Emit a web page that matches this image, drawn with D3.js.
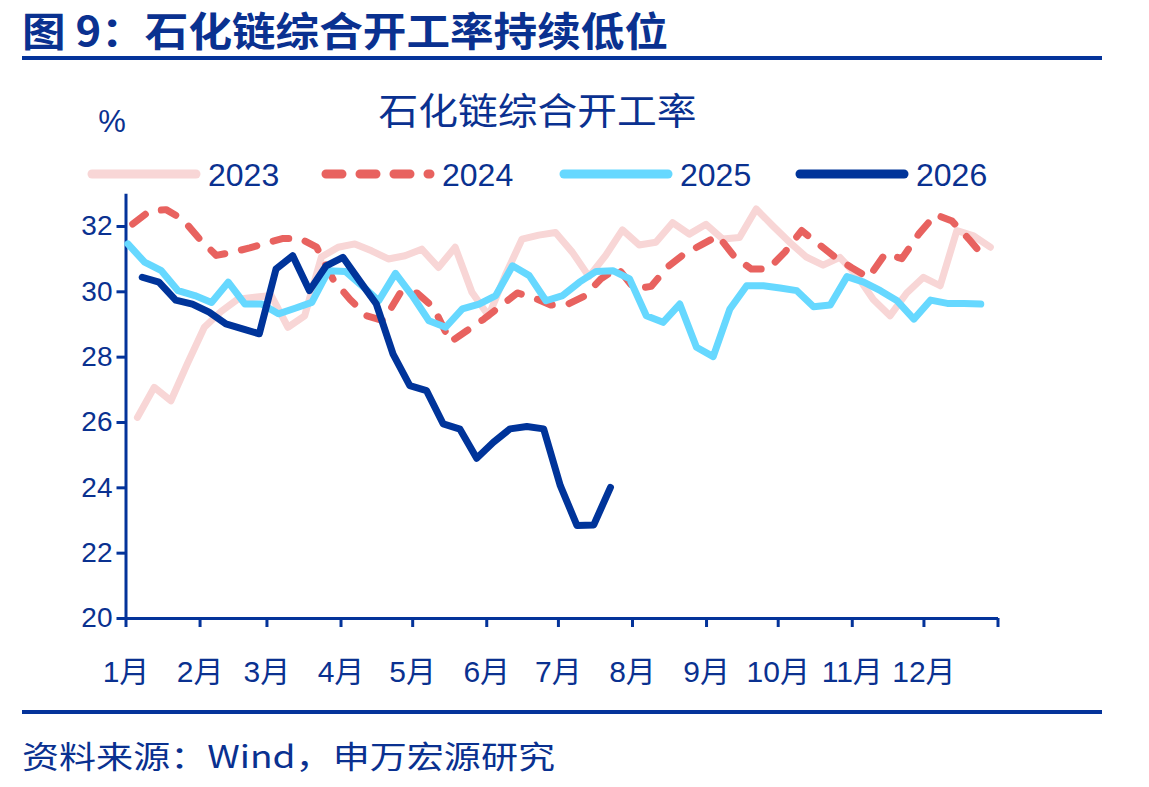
<!DOCTYPE html>
<html><head><meta charset="utf-8">
<script src="https://cdn.jsdelivr.net/npm/d3@7/dist/d3.min.js"></script>
<style>body{margin:0;background:#fff}svg{display:block}</style>
</head><body><svg id="c" width="1149" height="787"></svg>
<script>
// ---------- data ----------
const years = ["2023", "2024", "2025", "2026"];
const startDates = ["01-06", "01-04", "01-02", "01-08"]; // first weekly observation (month-day)
const v2023 = [26.14, 27.06, 26.65, 27.8, 28.9, 29.38, 29.76, 29.82, 29.87, 28.9,
  29.25, 31.05, 31.35, 31.45, 31.24, 30.99, 31.09, 31.29, 30.73, 31.35,
  29.97, 29.25, 30.5, 31.6, 31.72, 31.8, 31.2, 30.45, 31.1, 31.88,
  31.42, 31.5, 32.1, 31.75, 32.05, 31.6, 31.65, 32.52, 32.0, 31.5,
  31.05, 30.8, 31.04, 30.5, 29.75, 29.25, 29.95, 30.43, 30.17, 31.86,
  31.7, 31.35];
const v2024 = [32.06, 32.45, 32.5, 32.2, 31.6, 31.1, 31.2, 31.33, 31.48, 31.62,
  31.62, 31.35, 30.35, 29.75, 29.25, 29.1, 29.95, 29.95, 29.5, 28.45,
  28.8, 29.15, 29.55, 29.95, 29.8, 29.58, 29.6, 29.85, 30.38, 30.72,
  30.08, 30.15, 30.75, 31.15, 31.42, 31.7, 31.05, 30.68, 30.68, 31.2,
  31.86, 31.45, 31.05, 30.72, 30.42, 31.15, 31.0, 31.75, 32.35, 32.15,
  31.6, 30.99];
const v2025 = [31.45, 30.89, 30.63, 30.02, 29.87, 29.66, 30.28, 29.61, 29.61, 29.31,
  29.48, 29.66, 30.63, 30.61, 30.17, 29.71, 30.55, 29.87, 29.1, 28.9,
  29.46, 29.61, 29.87, 30.78, 30.48, 29.71, 29.87, 30.28, 30.61, 30.63,
  30.38, 29.25, 29.05, 29.61, 28.29, 28.0, 29.46, 30.17, 30.17, 30.1,
  30.02, 29.53, 29.58, 30.45, 30.28, 30.02, 29.71, 29.15, 29.73, 29.63,
  29.63, 29.61];
const v2026 = [30.43, 30.28, 29.73, 29.61, 29.36, 29.0, 28.85, 28.7, 30.68, 31.09,
  30.02, 30.78, 31.04, 30.32, 29.61, 28.08, 27.11, 26.96, 25.94, 25.78,
  24.89, 25.38, 25.79, 25.86, 25.79, 24.05, 22.83, 22.85, 24.0];
const monthLabels = ["1月","2月","3月","4月","5月","6月","7月","8月","9月","10月","11月","12月"];
const yTicks = [20, 22, 24, 26, 28, 30, 32];
const titleText = "图 9：石化链综合开工率持续低位";
const chartTitle = "石化链综合开工率";
const unitText = "%";
const sourceText = "资料来源：Wind，申万宏源研究";

// ---------- styles ----------
const NAVY = "#0A3190";
const AXIS = "#04339A";
const colors = ["#F8D6D6", "#E8625F", "#66D8FF", "#00349A"];
const dashes = [null, "16,17", null, null];
const LATIN = "'Liberation Sans', Arial, 'Noto Sans CJK SC', sans-serif";
const CJK = "'Noto Sans CJK SC', 'Liberation Sans', sans-serif";

const svg = d3.select("#c");
const W = 1149, H = 787;
svg.append("rect").attr("width", W).attr("height", H).attr("fill", "#fff");

// header
svg.append("text").attr("x", 22).attr("y", 46).text(titleText)
  .attr("font-family", CJK).attr("font-weight", 700).attr("font-size", 40)
  .attr("fill", NAVY).attr("textLength", 646).attr("lengthAdjust", "spacingAndGlyphs");
svg.append("rect").attr("x", 22).attr("y", 56).attr("width", 1080).attr("height", 4).attr("fill", AXIS);
svg.append("rect").attr("x", 22).attr("y", 710).attr("width", 1080).attr("height", 4).attr("fill", AXIS);
svg.append("text").attr("x", 22).attr("y", 768).text(sourceText)
  .attr("font-family", CJK).attr("font-size", 31).attr("fill", NAVY)
  .attr("textLength", 533).attr("lengthAdjust", "spacingAndGlyphs");

// chart title & unit
svg.append("text").attr("x", 537.5).attr("y", 125).attr("text-anchor", "middle").text(chartTitle)
  .attr("font-family", CJK).attr("font-size", 37).attr("fill", NAVY)
  .attr("textLength", 318).attr("lengthAdjust", "spacingAndGlyphs");
svg.append("text").attr("x", 112).attr("y", 132).attr("text-anchor", "middle").text(unitText)
  .attr("font-family", LATIN).attr("font-size", 31).attr("fill", NAVY);

// scales
const baseYear = 2026;
const x = d3.scaleTime().domain([new Date(baseYear, 0, 1), new Date(baseYear + 1, 0, 1)]).range([125.5, 997.5]);
const y = d3.scaleLinear().domain([20, 33]).range([618, 193.3]);

// axes
const monthTicks = d3.timeMonth.range(new Date(baseYear, 0, 1), new Date(baseYear + 1, 0, 2));
const xAxis = d3.axisBottom(x).tickValues(monthTicks).tickSize(9).tickSizeOuter(0)
  .tickFormat((d, i) => i < monthLabels.length ? monthLabels[i] : "");
const gx = svg.append("g").attr("transform", "translate(0,618)").call(xAxis);
gx.select(".domain").attr("stroke", AXIS).attr("stroke-width", 3);
gx.selectAll(".tick line").attr("stroke", AXIS).attr("stroke-width", 3);
gx.selectAll(".tick text").attr("font-family", LATIN).attr("font-size", 30).attr("fill", NAVY)
  .attr("y", 64).attr("dy", null);

const yAxis = d3.axisLeft(y).tickValues(yTicks).tickSize(9).tickSizeOuter(0).tickFormat(d3.format("d"));
const gy = svg.append("g").attr("transform", "translate(125.5,0)").call(yAxis);
gy.select(".domain").attr("stroke", AXIS).attr("stroke-width", 3);
gy.selectAll(".tick line").attr("stroke", AXIS).attr("stroke-width", 3);
gy.selectAll(".tick text").attr("font-family", LATIN).attr("font-size", 28).attr("fill", NAVY).attr("x", -13);

// series
const allValues = [v2023, v2024, v2025, v2026];
const series = years.map((yr, k) => {
  const [m, d] = startDates[k].split("-").map(Number);
  const start = new Date(baseYear, m - 1, d);
  return allValues[k].map((v, i) => ({ date: d3.timeDay.offset(start, 7 * i), value: v }));
});
const line = d3.line().x(d => x(d.date)).y(d => y(d.value)).curve(d3.curveLinear);
const gLines = svg.append("g");
series.forEach((s, k) => {
  const p = gLines.append("path").datum(s).attr("d", line)
    .attr("fill", "none").attr("stroke", colors[k]).attr("stroke-width", 7)
    .attr("stroke-linejoin", "round").attr("stroke-linecap", "round");
  if (dashes[k]) p.attr("stroke-dasharray", dashes[k]);
});

// legend
const legendX = [92, 326, 564, 800];
const legend = svg.append("g");
years.forEach((yr, k) => {
  const g = legend.append("g").attr("transform", `translate(${legendX[k]},174)`);
  const l = g.append("line").attr("x1", 0).attr("x2", 104).attr("y1", 0).attr("y2", 0)
    .attr("stroke", colors[k]).attr("stroke-width", 9).attr("stroke-linecap", "round");
  if (dashes[k]) l.attr("stroke-dasharray", "16,18");
  g.append("text").attr("x", 116).attr("y", 12).text(yr)
    .attr("font-family", LATIN).attr("font-size", 32).attr("fill", NAVY);
});
</script></body></html>
